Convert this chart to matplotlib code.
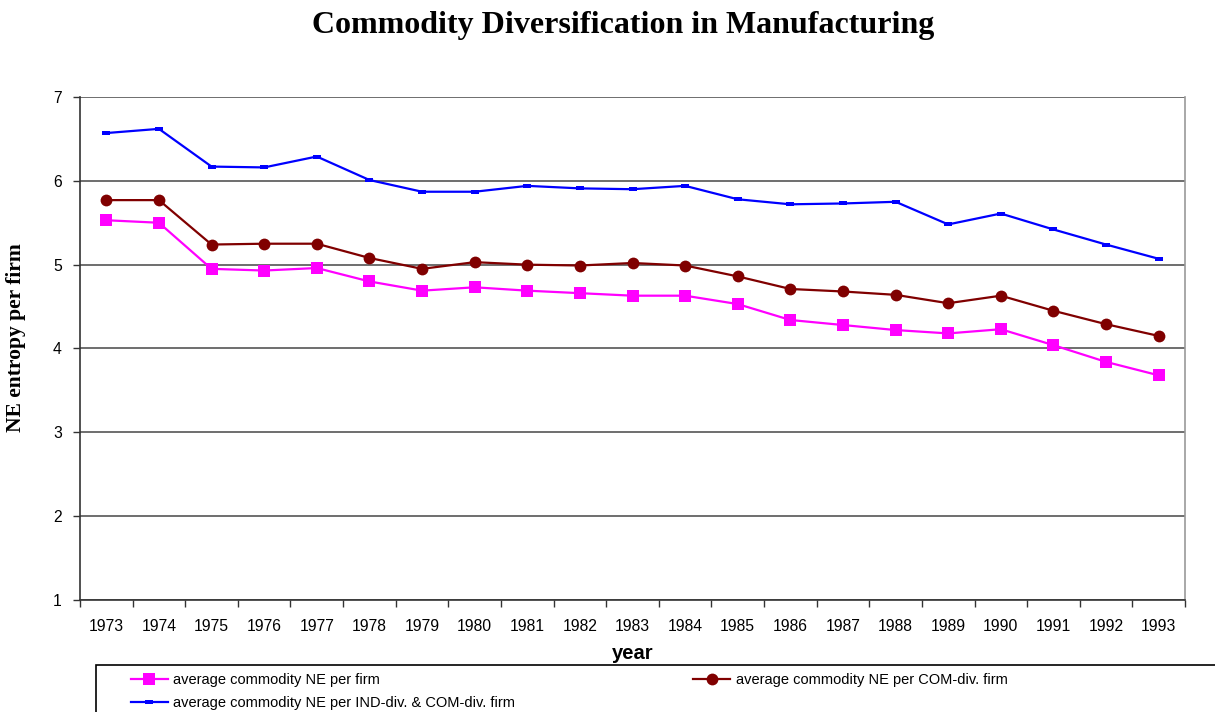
import numpy as np
import matplotlib
matplotlib.use("Agg")
import matplotlib.pyplot as plt
from matplotlib.patches import Rectangle

years = [str(y) for y in range(1973, 1994)]

ne_per_firm = [5.53, 5.50, 4.95, 4.93, 4.96, 4.80, 4.69, 4.73, 4.69, 4.66, 4.63,
               4.63, 4.53, 4.34, 4.28, 4.22, 4.18, 4.23, 4.04, 3.84, 3.68]
ne_com_div = [5.77, 5.77, 5.24, 5.25, 5.25, 5.08, 4.95, 5.03, 5.00, 4.99, 5.02,
              4.99, 4.86, 4.71, 4.68, 4.64, 4.54, 4.63, 4.45, 4.29, 4.15]
ne_ind_com_div = [6.57, 6.62, 6.17, 6.16, 6.29, 6.01, 5.87, 5.87, 5.94, 5.91, 5.90,
                  5.94, 5.78, 5.72, 5.73, 5.75, 5.48, 5.61, 5.42, 5.24, 5.07]

labels = ["average commodity NE per firm",
          "average commodity NE per IND-div. & COM-div. firm",
          "average commodity NE per COM-div. firm"]

plt.rcParams['font.family'] = ['Liberation Sans', 'DejaVu Sans']

# flat rectangle marker for the IND-div series
flat_box = [(-1, -0.55), (1, -0.55), (1, 0.55), (-1, 0.55), (-1, -0.55)]

fig = plt.figure(figsize=(12.15, 7.12), dpi=100)
ax = fig.add_axes([80 / 1215, 1 - 600 / 712, 1105 / 1215, 503 / 712])

x = np.arange(len(years))
l1, = ax.plot(x, ne_per_firm, color='#FF00FF', lw=1.6, marker='s', ms=8.5,
              markeredgewidth=0, label=labels[0])
l3, = ax.plot(x, ne_com_div, color='#800000', lw=1.6, marker='o', ms=8.5,
              markeredgewidth=0, label=labels[2])
l2, = ax.plot(x, ne_ind_com_div, color='#0000FF', lw=1.6, marker=flat_box, ms=5.5,
              markeredgewidth=0, label=labels[1])

ax.set_xlim(-0.5, len(years) - 0.5)
ax.set_ylim(1, 7)
ax.set_yticks(range(1, 8))
ax.set_xticks(x)
ax.set_xticklabels(years)
ax.set_xticks(np.arange(-0.5, len(years)), minor=True)
ax.tick_params(axis='x', which='major', length=0, pad=14, labelsize=11.3)
ax.tick_params(axis='x', which='minor', length=5, width=1, color='#333333')
ax.tick_params(axis='y', length=5, width=1, labelsize=11.3, pad=8, color='#333333')

ax.yaxis.grid(True, color='#555555', lw=1.2)
ax.set_axisbelow(True)
ax.spines['left'].set_color('#333333')
ax.spines['bottom'].set_color('#333333')
ax.spines['right'].set_color('#999999')
ax.spines['top'].set_visible(False)
for s in ['left', 'bottom', 'right']:
    ax.spines[s].set_linewidth(1.2)

ax.set_xlabel("year", fontsize=14.5, fontweight='bold', labelpad=7)
ax.set_ylabel("NE entropy per firm", fontsize=15.5, fontweight='bold',
              family='Liberation Serif')
ax.yaxis.set_label_coords(-0.049, 0.521)

fig.text(0.513, 1 - 25 / 712, "Commodity Diversification in Manufacturing",
         ha='center', va='center', fontsize=23, fontweight='bold',
         family='Liberation Serif')

# legend box runs off the right and bottom edges
fig.patches.append(Rectangle((96 / 1215, -0.05), 1.0, (712 - 665) / 712 + 0.05,
                             transform=fig.transFigure, fill=False,
                             edgecolor='black', lw=1.2))
fig.legend(handles=[l1, l2, l3], loc='upper left', ncol=2,
           bbox_to_anchor=(121 / 1215, 1 - 663 / 712), frameon=False,
           fontsize=10.5, handlelength=2.5, handletextpad=0.4,
           columnspacing=12.2, labelspacing=0.62, borderpad=0.2)

fig.savefig("out.png", dpi=100)
